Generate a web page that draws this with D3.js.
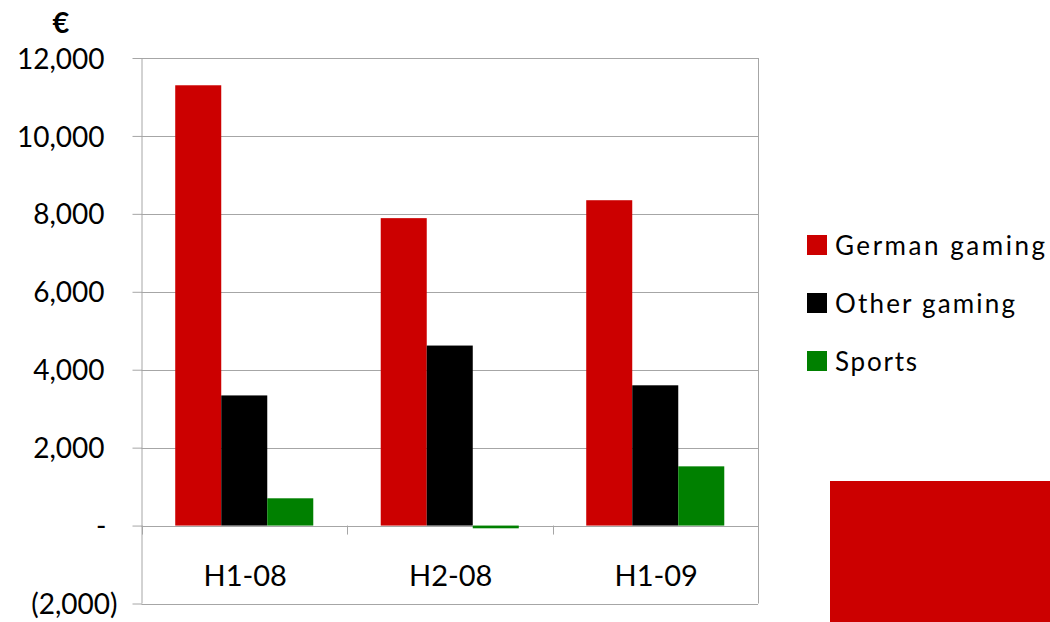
<!DOCTYPE html>
<html>
<head>
<meta charset="utf-8">
<script src="https://cdn.jsdelivr.net/npm/d3@7"></script>
<style>
  html, body { margin: 0; padding: 0; background: #fff; }
  svg { display: block; font-family: Lato, "Open Sans", sans-serif; }
</style>
</head>
<body>
<svg id="chart" width="1050" height="622"></svg>
<script>
// Half-year results by segment (EUR thousands)
const categories = ["H1-08", "H2-08", "H1-09"];
const seriesNames = ["German gaming", "Other gaming", "Sports"];
const germanGaming = [11300, 7890, 8350];
const otherGaming = [3340, 4620, 3600];
const sports = [700, -70, 1520];
const seriesColors = ["#cc0000", "#000000", "#008000"];
const yTicks = [-2000, 0, 2000, 4000, 6000, 8000, 10000, 12000];

const seriesValues = [germanGaming, otherGaming, sports];
const rows = categories.map((c, i) => ({
  category: c,
  values: seriesNames.map((s, j) => ({ series: s, value: seriesValues[j][i], color: seriesColors[j] }))
}));

const svg = d3.select("#chart");
const plot = { left: 141.5, right: 758, top: 58, bottom: 603.5 };
const gridColor = "#a6a6a6";

const y = d3.scaleLinear().domain([-2000, 12000]).range([plot.bottom, plot.top]);
const x0 = d3.scaleBand().domain(categories).range([plot.left, plot.right]).padding(0);
const x1 = d3.scaleBand().domain(seriesNames).range([0, x0.bandwidth()])
  .paddingInner(0).paddingOuter(0.733);

// Horizontal gridlines
svg.append("g")
  .selectAll("line")
  .data(yTicks)
  .join("line")
  .attr("x1", plot.left)
  .attr("x2", plot.right)
  .attr("y1", d => Math.round(y(d)) + 0.5)
  .attr("y2", d => Math.round(y(d)) + 0.5)
  .attr("stroke", gridColor)
  .attr("stroke-width", 1);

// Right border of the plot area
svg.append("line")
  .attr("x1", plot.right + 0.5).attr("x2", plot.right + 0.5)
  .attr("y1", y(12000)).attr("y2", y(-2000))
  .attr("stroke", gridColor);

// Bars
const groups = svg.append("g")
  .selectAll("g")
  .data(rows)
  .join("g")
  .attr("transform", d => `translate(${x0(d.category)},0)`);

groups.selectAll("rect")
  .data(d => d.values)
  .join("rect")
  .attr("x", d => x1(d.series))
  .attr("width", x1.bandwidth())
  .attr("y", d => y(Math.max(0, d.value)))
  .attr("height", d => Math.abs(y(d.value) - y(0)))
  .attr("fill", d => d.color);

// Value axis with accounting-style labels
const fmt = d3.format(",");
const yAxis = d3.axisLeft(y)
  .tickValues(yTicks)
  .tickSize(9)
  .tickPadding(0)
  .tickFormat(d => d === 0 ? "-" : d < 0 ? `(${fmt(-d)})` : fmt(d));

const yG = svg.append("g")
  .attr("transform", `translate(${plot.left},0)`)
  .call(yAxis);
yG.select(".domain").attr("stroke", gridColor).attr("d", `M0.5,${y(12000)}V${y(-2000)}`);
yG.selectAll(".tick line").attr("stroke", gridColor).attr("x1", 0.5).attr("x2", -9);
yG.selectAll(".tick text")
  .attr("fill", "#000")
  .attr("font-size", 28)
  .attr("dy", "0.36em")
  .attr("x", d => d < 0 ? -24 : d === 0 ? -35 : -37)
  .attr("font-family", "Lato, 'Open Sans', sans-serif");

// Category axis along zero
const catTicks = categories.map(c => x0(c)).concat([plot.right]);
svg.append("g")
  .selectAll("line")
  .data(catTicks)
  .join("line")
  .attr("x1", d => Math.round(d) + 0.5)
  .attr("x2", d => Math.round(d) + 0.5)
  .attr("y1", y(0))
  .attr("y2", y(0) + 9)
  .attr("stroke", gridColor);

svg.append("g")
  .selectAll("text")
  .data(categories)
  .join("text")
  .attr("x", d => x0(d) + x0.bandwidth() / 2 + 1)
  .attr("y", 586)
  .attr("text-anchor", "middle")
  .attr("font-size", 29)
  .attr("fill", "#000")
  .text(d => d);

// Unit label
svg.append("text")
  .attr("x", 61)
  .attr("y", 33)
  .attr("text-anchor", "middle")
  .attr("font-size", 29)
  .attr("font-weight", "bold")
  .attr("fill", "#000")
  .text("€");

// Legend
const legendWidths = [210, 180, 82];
const legend = svg.append("g")
  .selectAll("g")
  .data(seriesNames)
  .join("g")
  .attr("transform", (d, i) => `translate(807,${235 + i * 58})`);

legend.append("rect")
  .attr("width", 20)
  .attr("height", 20)
  .attr("fill", (d, i) => seriesColors[i]);

legend.append("text")
  .attr("x", 28)
  .attr("y", 20)
  .attr("font-size", 26)
  .attr("fill", "#000")
  .attr("textLength", (d, i) => legendWidths[i])
  .attr("lengthAdjust", "spacing")
  .text(d => d);

// Decorative corner block
svg.append("rect")
  .attr("x", 830)
  .attr("y", 481)
  .attr("width", 220)
  .attr("height", 141)
  .attr("fill", "#cc0000");
</script>
</body>
</html>
